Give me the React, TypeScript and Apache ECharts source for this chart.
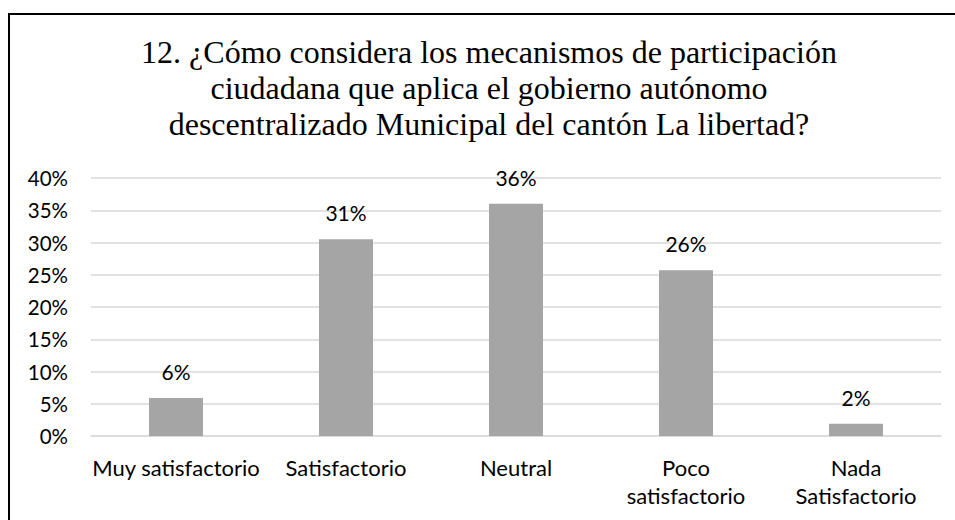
import React, { useEffect, useRef } from "react";
import * as echarts from "echarts";

const titleLines = [
  "12. ¿Cómo considera los mecanismos de participación",
  "ciudadana que aplica el gobierno autónomo",
  "descentralizado Municipal del cantón La libertad?",
];
const categories = [
  "Muy satisfactorio",
  "Satisfactorio",
  "Neutral",
  "Poco\nsatisfactorio",
  "Nada\nSatisfactorio",
];
const values = [5.9, 30.5, 36.0, 25.7, 1.9];
const yTicks = { min: 0, max: 40, interval: 5 };

export default function App() {
  const ref = useRef<HTMLDivElement>(null);
  useEffect(() => {
    if (!ref.current) return;
    const chart = echarts.init(ref.current, undefined, { renderer: "svg" });
    const labelFont = "Lato";
    chart.setOption({
      animation: false,
      backgroundColor: "#ffffff",
      title: {
        text: titleLines.join("\n"),
        left: 489,
        top: 34,
        padding: 0,
        textAlign: "center",
        textStyle: {
          fontFamily: "'Liberation Serif', 'Times New Roman', serif",
          fontSize: 32,
          fontWeight: "normal",
          color: "#000000",
          lineHeight: 36,
        },
      },
      graphic: [
        {
          type: "rect",
          shape: { x: 9, y: 14, width: 1000, height: 600 },
          style: { fill: "none", stroke: "#000000", lineWidth: 2 },
          silent: true,
        },
      ],
      grid: { left: 91, right: 14, top: 178, bottom: 84, containLabel: false },
      xAxis: {
        type: "category",
        data: categories,
        axisLine: { show: true, lineStyle: { color: "#D9D9D9", width: 1.5 } },
        axisTick: { show: false },
        axisLabel: {
          interval: 0,
          margin: 17,
          fontFamily: labelFont,
          fontSize: 22,
          lineHeight: 28,
          color: "#000000",
        },
      },
      yAxis: {
        type: "value",
        min: yTicks.min,
        max: yTicks.max,
        interval: yTicks.interval,
        axisLine: { show: false },
        axisTick: { show: false },
        splitLine: { lineStyle: { color: "#D9D9D9", width: 1.5 } },
        axisLabel: {
          margin: 23,
          fontFamily: labelFont,
          fontSize: 20.5,
          color: "#000000",
          formatter: (v: number) => `${v}%`,
        },
      },
      series: [
        {
          type: "bar",
          data: values,
          barWidth: 54,
          itemStyle: { color: "#A5A5A5" },
          label: {
            show: true,
            position: "top",
            distance: 16,
            fontFamily: labelFont,
            fontSize: 21,
            color: "#000000",
            formatter: (p: any) => `${Math.round(p.value)}%`,
          },
        },
      ],
    });
    return () => chart.dispose();
  }, []);
  return (
    <div
      ref={ref}
      style={{ position: "fixed", left: 0, top: 0, width: 955, height: 520 }}
    />
  );
}
